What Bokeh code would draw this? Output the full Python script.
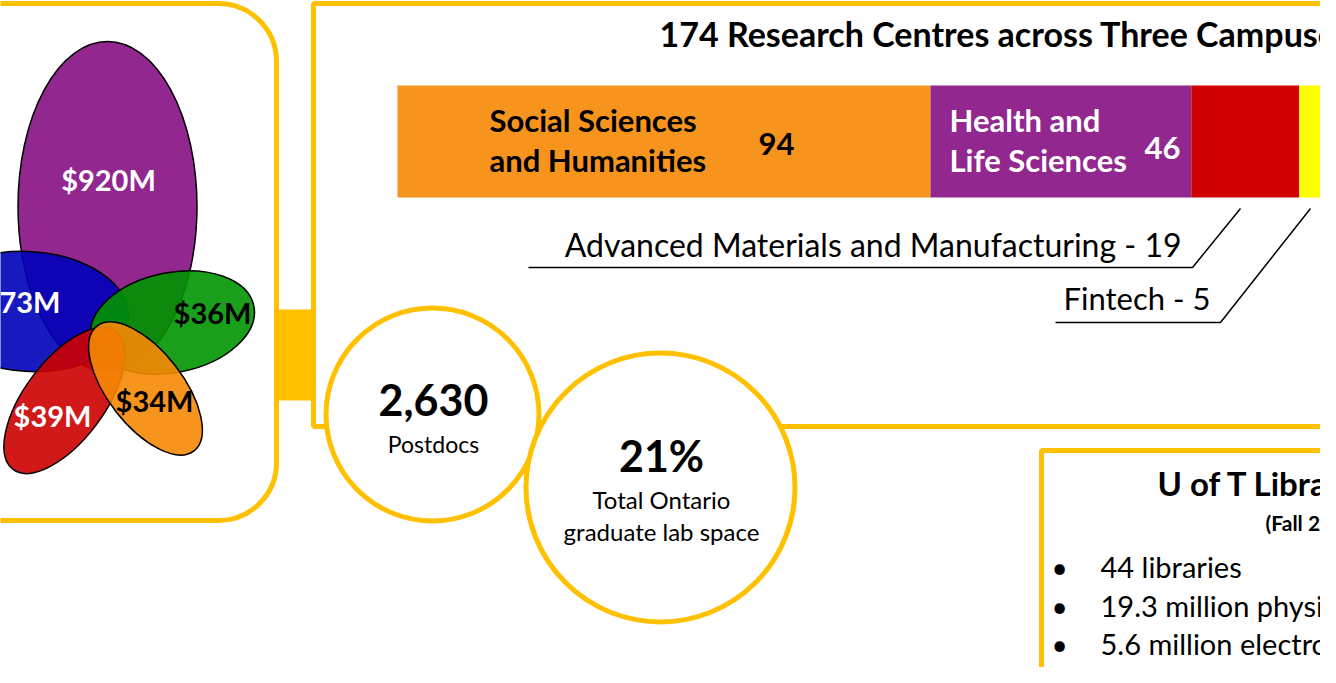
from bokeh.plotting import figure
from bokeh.models import Range1d
from bokeh.core.properties import value
from bokeh.embed import file_html
from bokeh.resources import INLINE
import numpy as np

# ---------------- data ----------------
funding_labels = ["$920M", "$173M", "$36M", "$39M", "$34M"]
funding_colors = ["#860F83", "#0000B9", "#009500", "#CD0000", "#F68804"]
funding_text_colors = ["white", "white", "black", "white", "black"]

centre_categories = ["Social Sciences and Humanities", "Health and Life Sciences",
                     "Advanced Materials and Manufacturing", "Fintech", "Other"]
centre_counts = [94, 46, 19, 5, 10]
centre_colors = ["#F7941D", "#92278F", "#D00000", "#FFFF00", "#13A010"]
centre_title = "174 Research Centres across Three Campuses"

stat_values = ["2,630", "21%"]
stat_lines = [["Postdocs"], ["Total Ontario", "graduate lab space"]]

library_title = "U of T Libraries"
library_subtitle = "(Fall 2019)"
library_items = ["44 libraries", "19.3 million physical volumes",
                 "5.6 million electronic resources"]

GOLD = "#FFC000"
FONT = value("Lato")

W, H = 1320, 667
# ---------------- figure ----------------
p = figure(width=W, height=H, x_range=Range1d(0, W), y_range=Range1d(H, 0),
           output_backend="svg", toolbar_location=None, min_border=0,
           x_axis_type=None, y_axis_type=None)
p.grid.visible = False
p.outline_line_color = None
p.background_fill_color = "white"

# ---------------- left panel (funding flower) ----------------
p.quad(left=[-80], right=[276], top=[3], bottom=[520], fill_color=None,
       line_color=GOLD, line_width=5, border_radius=58)
p.quad(left=[276], right=[314], top=[309], bottom=[400], fill_color=GOLD, line_color=None)

ex = [107, 28, 172, 64, 145]
ey = [206, 311, 322, 400, 388]
ew = [179, 200, 166, 172, 158]
eh = [330, 120, 100, 80, 75]
ea = [0, -0.06, 0.2, 0.93, -0.91]
p.ellipse(x=ex, y=ey, width=ew, height=eh, angle=ea, fill_color=funding_colors,
          fill_alpha=0.9, line_color="black", line_width=1.5)

lx = [108, 60, 212, 52, 154]
ly = [179, 301, 312, 415, 400]
la = ["center", "right", "center", "center", "center"]
for i in range(5):
    p.text(x=[lx[i]], y=[ly[i]], text=[funding_labels[i]], text_font=FONT,
           text_font_style="bold", text_font_size="29px", text_color=funding_text_colors[i],
           text_align=la[i], text_baseline="middle")

# ---------------- research centres panel ----------------
p.quad(left=[313], right=[1400], top=[3], bottom=[426], fill_color=None,
       line_color=GOLD, line_width=5)

p.text(x=[659], y=[33], text=[centre_title], text_font=FONT, text_font_style="bold",
       text_font_size="34px", text_color="black", text_align="left", text_baseline="middle")

k = 5.67  # px per centre
p.extra_x_ranges = {"count": Range1d(start=(0 - 397) / k, end=(W - 397) / k)}
rights = np.cumsum(centre_counts)
lefts = rights - np.array(centre_counts)
p.hbar(y=[141] * len(centre_counts), height=112, left=lefts, right=rights,
       fill_color=centre_colors, line_color=None, x_range_name="count")

p.text(x=[489, 489], y=[119, 159], text=["Social Sciences", "and Humanities"], text_font=FONT,
       text_font_style="bold", text_font_size="31px", text_color="black",
       text_align="left", text_baseline="middle")
p.text(x=[776], y=[143], text=[str(centre_counts[0])], text_font=FONT, text_font_style="bold",
       text_font_size="31px", text_color="black", text_align="center", text_baseline="middle")
p.text(x=[949, 949], y=[119, 159], text=["Health and", "Life Sciences"], text_font=FONT,
       text_font_style="bold", text_font_size="31px", text_color="white",
       text_align="left", text_baseline="middle")
p.text(x=[1162], y=[147], text=[str(centre_counts[1])], text_font=FONT, text_font_style="bold",
       text_font_size="31px", text_color="white", text_align="center", text_baseline="middle")

# callouts
p.line(x=[528, 1192, 1240], y=[267, 267, 208], line_color="black", line_width=1.5)
p.line(x=[1055, 1220, 1310], y=[322, 322, 208], line_color="black", line_width=1.5)
p.line(x=[1334, 1342], y=[208, 220], line_color="black", line_width=1.5)
p.text(x=[1181], y=[244], text=[f"{centre_categories[2]} - {centre_counts[2]}"], text_font=FONT,
       text_font_size="32px", text_color="black", text_align="right", text_baseline="middle")
p.text(x=[1063], y=[297], text=[f"{centre_categories[3]} - {centre_counts[3]}"], text_font=FONT,
       text_font_size="31px", text_color="black", text_align="left", text_baseline="middle")

# ---------------- stat circles ----------------
p.circle(x=[432], y=[414], radius=106.5, fill_color="white", line_color=GOLD, line_width=5)
p.circle(x=[660], y=[487], radius=134.5, fill_color="white", line_color=GOLD, line_width=5)
p.text(x=[433, 661], y=[399, 455], text=stat_values, text_font=FONT, text_font_style="bold",
       text_font_size="43px", text_color="black", text_align="center", text_baseline="middle")
p.text(x=[433], y=[443], text=stat_lines[0], text_font=FONT, text_font_size="23px",
       text_color="black", text_align="center", text_baseline="middle")
p.text(x=[661, 661], y=[499, 531], text=stat_lines[1], text_font=FONT, text_font_size="24px",
       text_color="black", text_align="center", text_baseline="middle")

# ---------------- library box ----------------
p.quad(left=[1041], right=[1400], top=[450], bottom=[720], fill_color=None,
       line_color=GOLD, line_width=5)
p.text(x=[1157], y=[482], text=[library_title], text_font=FONT, text_font_style="bold",
       text_font_size="33px", text_color="black", text_align="left", text_baseline="middle")
p.text(x=[1265], y=[522], text=[library_subtitle], text_font=FONT, text_font_style="bold",
       text_font_size="21px", text_color="black", text_align="left", text_baseline="middle")
by = [566, 605, 643]
p.text(x=[1059] * 4, y=by + [682], text=["•"] * 4, text_font=FONT, text_font_size="28px",
       text_color="black", text_align="center", text_baseline="middle")
p.text(x=[1100] * 3, y=by, text=library_items, text_font=FONT, text_font_size="29px",
       text_color="black", text_align="left", text_baseline="middle")
p.text(x=[1100], y=[682], text=["3"], text_font=FONT, text_font_size="29px",
       text_color="black", text_align="left", text_baseline="middle")
p.text(x=[1117], y=[672], text=["rd"], text_font=FONT, text_font_size="18px",
       text_color="black", text_align="left", text_baseline="middle")
p.text(x=[1141], y=[682], text=["largest in North America"], text_font=FONT, text_font_size="29px",
       text_color="black", text_align="left", text_baseline="middle")

open("out.html", "w").write(file_html(p, INLINE))
